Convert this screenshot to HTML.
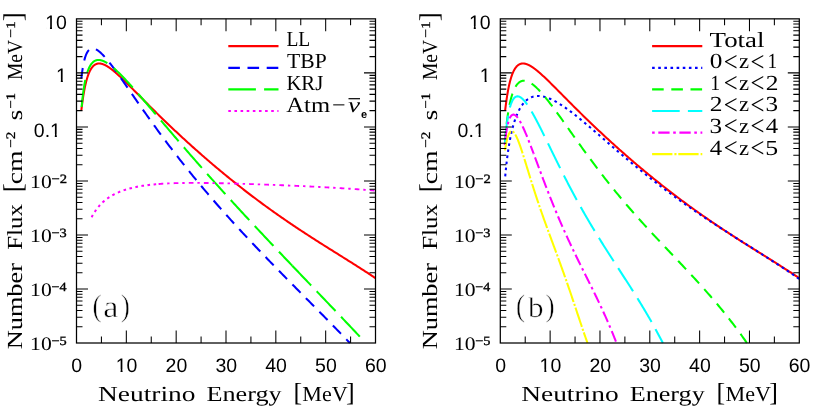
<!DOCTYPE html>
<html><head><meta charset="utf-8"><title>Supernova relic neutrino flux</title>
<style>
html,body{margin:0;padding:0;background:#fff;}
body{width:817px;height:413px;overflow:hidden;}
svg{display:block;will-change:transform}
text{fill:#000;text-rendering:geometricPrecision}
.tk{font-family:"Liberation Sans",sans-serif;font-size:19.5px}
.ex{font-family:"Liberation Serif",serif;font-size:19px}
.exs{font-family:"Liberation Serif",serif;font-size:12.7px;stroke:#000;stroke-width:0.35px}
.ax{font-family:"Liberation Serif",serif;font-size:21.5px}
.sup{font-family:"Liberation Serif",serif;font-size:13px;stroke:#000;stroke-width:0.3px}
.br{font-family:"Liberation Serif",serif;font-size:27px}
.br2{font-family:"Liberation Serif",serif;font-size:26px}
.lg{font-family:"Liberation Serif",serif;font-size:21.5px}
.pn{font-family:"Liberation Serif",serif;font-size:31px;stroke:#fff;stroke-width:0.5px}
.cv{fill:none;stroke-width:2.05;stroke-linejoin:round}
</style></head><body>
<svg width="817" height="413" viewBox="0 0 817 413">
<rect width="817" height="413" fill="#fff"/>
<clipPath id="ca"><rect x="76.5" y="18.85" width="299.0" height="325.15"/></clipPath>
<clipPath id="cb"><rect x="500.3" y="18.85" width="299.0" height="325.15"/></clipPath>
<g clip-path="url(#ca)">
<path class="cv" stroke="#ff0000" d="M81.33,110.50 L81.55,108.68 L81.77,106.91 L81.99,105.19 L82.21,103.52 L82.43,101.91 L82.65,100.34 L82.87,98.83 L83.09,97.37 L83.31,95.96 L83.53,94.60 L83.75,93.29 L83.97,92.02 L84.19,90.80 L84.41,89.62 L84.63,88.49 L84.85,87.39 L85.08,86.34 L85.30,85.32 L85.52,84.34 L85.74,83.40 L85.96,82.49 L86.18,81.61 L86.40,80.77 L86.62,79.96 L86.84,79.17 L87.06,78.42 L87.28,77.70 L87.50,77.00 L87.72,76.33 L87.94,75.69 L88.16,75.07 L88.38,74.47 L88.60,73.90 L88.82,73.35 L89.04,72.82 L89.26,72.31 L89.48,71.82 L89.70,71.35 L89.92,70.90 L90.14,70.47 L90.36,70.06 L90.58,69.66 L90.80,69.28 L91.02,68.92 L91.25,68.57 L91.47,68.24 L91.69,67.92 L91.91,67.62 L92.13,67.33 L92.35,67.06 L92.57,66.79 L92.79,66.54 L93.01,66.31 L93.23,66.08 L93.45,65.87 L93.67,65.66 L93.89,65.47 L94.11,65.29 L94.33,65.12 L94.55,64.96 L94.77,64.81 L94.99,64.67 L95.21,64.54 L95.43,64.41 L95.65,64.30 L95.87,64.19 L96.09,64.10 L96.31,64.01 L96.53,63.93 L96.75,63.85 L96.97,63.79 L97.20,63.73 L97.42,63.67 L97.64,63.63 L97.86,63.59 L98.08,63.56 L98.30,63.53 L98.52,63.51 L98.74,63.50 L98.96,63.49 L99.18,63.49 L99.40,63.49 L99.62,63.50 L99.84,63.52 L100.06,63.53 L100.28,63.56 L100.50,63.59 L100.72,63.62 L100.94,63.66 L101.16,63.70 L101.38,63.75 L101.60,63.80 L101.82,63.86 L102.04,63.92 L102.26,63.98 L102.48,64.05 L102.70,64.12 L102.92,64.20 L103.14,64.28 L103.37,64.36 L103.59,64.45 L103.81,64.54 L104.03,64.63 L104.25,64.72 L104.47,64.82 L104.69,64.93 L104.91,65.03 L105.13,65.14 L105.35,65.25 L105.57,65.36 L105.79,65.48 L106.01,65.60 L106.23,65.72 L106.45,65.85 L106.67,65.97 L106.89,66.10 L107.11,66.23 L107.33,66.37 L107.55,66.50 L107.77,66.64 L107.99,66.78 L108.21,66.92 L108.43,67.07 L108.65,67.21 L108.87,67.36 L109.09,67.51 L109.32,67.67 L109.54,67.82 L109.76,67.98 L109.98,68.13 L110.20,68.29 L110.42,68.45 L110.64,68.62 L110.86,68.78 L111.08,68.94 L111.30,69.11 L111.52,69.28 L111.74,69.45 L111.96,69.62 L112.18,69.79 L112.40,69.97 L112.62,70.14 L112.84,70.32 L113.06,70.50 L113.28,70.68 L113.50,70.86 L113.72,71.04 L113.94,71.22 L114.16,71.41 L114.38,71.59 L114.60,71.78 L114.82,71.96 L115.04,72.15 L115.26,72.34 L115.49,72.53 L115.71,72.72 L115.93,72.91 L116.15,73.10 L116.37,73.30 L117.67,74.46 L118.97,75.64 L120.27,76.85 L121.58,78.08 L122.88,79.32 L124.18,80.58 L125.48,81.85 L126.78,83.13 L128.09,84.42 L129.39,85.72 L130.69,87.02 L131.99,88.33 L133.29,89.64 L134.60,90.95 L135.90,92.26 L137.20,93.58 L138.50,94.89 L139.81,96.21 L141.11,97.52 L142.41,98.83 L143.71,100.14 L145.01,101.45 L146.32,102.76 L147.62,104.07 L148.92,105.37 L150.22,106.67 L151.53,107.96 L152.83,109.25 L154.13,110.54 L155.43,111.83 L156.73,113.11 L158.04,114.39 L159.34,115.66 L160.64,116.93 L161.94,118.20 L163.25,119.46 L164.55,120.72 L165.85,121.98 L167.15,123.23 L168.45,124.47 L169.76,125.71 L171.06,126.95 L172.36,128.19 L173.66,129.41 L174.96,130.64 L176.27,131.86 L177.57,133.08 L178.87,134.29 L180.17,135.50 L181.48,136.71 L182.78,137.91 L184.08,139.10 L185.38,140.29 L186.68,141.48 L187.99,142.67 L189.29,143.85 L190.59,145.02 L191.89,146.20 L193.20,147.36 L194.50,148.53 L195.80,149.69 L197.10,150.84 L198.40,152.00 L199.71,153.14 L201.01,154.29 L202.31,155.43 L203.61,156.56 L204.91,157.70 L206.22,158.83 L207.52,159.95 L208.82,161.07 L210.12,162.19 L211.43,163.30 L212.73,164.41 L214.03,165.51 L215.33,166.61 L216.63,167.71 L217.94,168.80 L219.24,169.89 L220.54,170.97 L221.84,172.05 L223.15,173.13 L224.45,174.20 L225.75,175.27 L227.05,176.34 L228.35,177.40 L229.66,178.46 L230.96,179.51 L232.26,180.56 L233.56,181.60 L234.86,182.65 L236.17,183.68 L237.47,184.72 L238.77,185.75 L240.07,186.77 L241.38,187.79 L242.68,188.81 L243.98,189.82 L245.28,190.83 L246.58,191.84 L247.89,192.84 L249.19,193.84 L250.49,194.84 L251.79,195.83 L253.10,196.81 L254.40,197.79 L255.70,198.77 L257.00,199.75 L258.30,200.72 L259.61,201.69 L260.91,202.65 L262.21,203.61 L263.51,204.57 L264.81,205.52 L266.12,206.47 L267.42,207.41 L268.72,208.35 L270.02,209.29 L271.33,210.22 L272.63,211.15 L273.93,212.08 L275.23,213.00 L276.53,213.92 L277.84,214.83 L279.14,215.75 L280.44,216.66 L281.74,217.56 L283.05,218.46 L284.35,219.36 L285.65,220.26 L286.95,221.15 L288.25,222.04 L289.56,222.92 L290.86,223.80 L292.16,224.68 L293.46,225.56 L294.76,226.43 L296.07,227.30 L297.37,228.17 L298.67,229.03 L299.97,229.89 L301.28,230.75 L302.58,231.61 L303.88,232.46 L305.18,233.31 L306.48,234.16 L307.79,235.01 L309.09,235.85 L310.39,236.69 L311.69,237.53 L313.00,238.37 L314.30,239.20 L315.60,240.04 L316.90,240.87 L318.20,241.70 L319.51,242.53 L320.81,243.35 L322.11,244.18 L323.41,245.00 L324.72,245.82 L326.02,246.64 L327.32,247.46 L328.62,248.28 L329.92,249.10 L331.23,249.92 L332.53,250.73 L333.83,251.55 L335.13,252.36 L336.43,253.18 L337.74,253.99 L339.04,254.81 L340.34,255.62 L341.64,256.44 L342.95,257.25 L344.25,258.07 L345.55,258.88 L346.85,259.70 L348.15,260.52 L349.46,261.33 L350.76,262.15 L352.06,262.98 L353.36,263.80 L354.67,264.62 L355.97,265.45 L357.27,266.27 L358.57,267.10 L359.87,267.94 L361.18,268.77 L362.48,269.61 L363.78,270.45 L365.08,271.29 L366.38,272.13 L367.69,272.98 L368.99,273.83 L370.29,274.69 L371.59,275.55 L372.90,276.41 L374.20,277.28 L375.50,278.15"/>
<path class="cv" stroke="#0000ff" stroke-dasharray="11.6 7.6" stroke-dashoffset="1.0" d="M81.37,78.50 L81.59,76.50 L81.81,74.64 L82.03,72.90 L82.25,71.28 L82.48,69.76 L82.70,68.34 L82.92,67.01 L83.14,65.76 L83.36,64.58 L83.58,63.48 L83.80,62.45 L84.02,61.47 L84.24,60.56 L84.46,59.69 L84.68,58.88 L84.90,58.12 L85.12,57.40 L85.34,56.72 L85.56,56.09 L85.78,55.49 L86.00,54.92 L86.22,54.39 L86.44,53.90 L86.66,53.43 L86.88,52.99 L87.10,52.58 L87.32,52.19 L87.54,51.83 L87.76,51.50 L87.98,51.18 L88.20,50.89 L88.42,50.62 L88.64,50.36 L88.86,50.13 L89.08,49.92 L89.30,49.72 L89.52,49.54 L89.74,49.37 L89.96,49.22 L90.18,49.09 L90.40,48.96 L90.62,48.86 L90.84,48.76 L91.06,48.68 L91.28,48.61 L91.50,48.55 L91.72,48.50 L91.94,48.47 L92.16,48.44 L92.38,48.43 L92.60,48.42 L92.82,48.42 L93.04,48.43 L93.26,48.46 L93.48,48.48 L93.70,48.52 L93.92,48.57 L94.14,48.62 L94.36,48.68 L94.58,48.75 L94.80,48.82 L95.02,48.91 L95.24,48.99 L95.46,49.09 L95.68,49.19 L95.90,49.29 L96.12,49.41 L96.34,49.52 L96.56,49.65 L96.78,49.78 L97.00,49.91 L97.22,50.05 L97.44,50.19 L97.66,50.34 L97.88,50.49 L98.10,50.65 L98.32,50.81 L98.54,50.97 L98.76,51.14 L98.98,51.32 L99.20,51.49 L99.42,51.67 L99.64,51.86 L99.86,52.05 L100.08,52.24 L100.30,52.43 L100.52,52.63 L100.74,52.83 L100.96,53.04 L101.18,53.24 L101.40,53.45 L101.62,53.67 L101.84,53.88 L102.06,54.10 L102.28,54.32 L102.50,54.55 L102.72,54.77 L102.94,55.00 L103.16,55.23 L103.38,55.46 L103.60,55.70 L103.82,55.94 L104.04,56.18 L104.26,56.42 L104.48,56.66 L104.70,56.91 L104.92,57.16 L105.14,57.41 L105.36,57.66 L105.58,57.91 L105.80,58.17 L106.02,58.42 L106.24,58.68 L106.46,58.94 L106.68,59.20 L106.90,59.47 L107.12,59.73 L107.34,60.00 L107.56,60.26 L107.78,60.53 L108.00,60.80 L108.22,61.08 L108.44,61.35 L108.66,61.62 L108.88,61.90 L109.10,62.18 L109.32,62.45 L109.54,62.73 L109.76,63.01 L109.98,63.29 L110.20,63.58 L110.42,63.86 L110.64,64.14 L110.86,64.43 L111.08,64.72 L111.30,65.00 L111.53,65.29 L111.75,65.58 L111.97,65.87 L112.19,66.16 L112.41,66.45 L112.63,66.74 L112.85,67.04 L113.07,67.33 L113.29,67.63 L113.51,67.92 L113.73,68.22 L113.95,68.52 L114.17,68.81 L114.39,69.11 L114.61,69.41 L114.83,69.71 L115.05,70.01 L115.27,70.31 L115.49,70.61 L115.71,70.91 L115.93,71.22 L116.15,71.52 L116.37,71.82 L117.67,73.63 L118.97,75.45 L120.27,77.28 L121.58,79.12 L122.88,80.98 L124.18,82.84 L125.48,84.70 L126.78,86.57 L128.09,88.44 L129.39,90.32 L130.69,92.19 L131.99,94.07 L133.29,95.94 L134.60,97.81 L135.90,99.69 L137.20,101.55 L138.50,103.42 L139.81,105.28 L141.11,107.14 L142.41,108.99 L143.71,110.84 L145.01,112.68 L146.32,114.52 L147.62,116.35 L148.92,118.18 L150.22,120.00 L151.53,121.81 L152.83,123.62 L154.13,125.42 L155.43,127.22 L156.73,129.01 L158.04,130.79 L159.34,132.57 L160.64,134.33 L161.94,136.10 L163.25,137.85 L164.55,139.60 L165.85,141.34 L167.15,143.07 L168.45,144.80 L169.76,146.52 L171.06,148.23 L172.36,149.93 L173.66,151.63 L174.96,153.32 L176.27,155.01 L177.57,156.68 L178.87,158.35 L180.17,160.02 L181.48,161.67 L182.78,163.32 L184.08,164.96 L185.38,166.60 L186.68,168.23 L187.99,169.85 L189.29,171.47 L190.59,173.08 L191.89,174.68 L193.20,176.28 L194.50,177.87 L195.80,179.45 L197.10,181.03 L198.40,182.60 L199.71,184.16 L201.01,185.72 L202.31,187.28 L203.61,188.82 L204.91,190.37 L206.22,191.90 L207.52,193.43 L208.82,194.95 L210.12,196.47 L211.43,197.99 L212.73,199.49 L214.03,201.00 L215.33,202.49 L216.63,203.99 L217.94,205.47 L219.24,206.95 L220.54,208.43 L221.84,209.90 L223.15,211.37 L224.45,212.83 L225.75,214.29 L227.05,215.74 L228.35,217.19 L229.66,218.63 L230.96,220.07 L232.26,221.51 L233.56,222.94 L234.86,224.37 L236.17,225.79 L237.47,227.21 L238.77,228.62 L240.07,230.03 L241.38,231.44 L242.68,232.85 L243.98,234.25 L245.28,235.64 L246.58,237.03 L247.89,238.42 L249.19,239.81 L250.49,241.19 L251.79,242.57 L253.10,243.95 L254.40,245.32 L255.70,246.70 L257.00,248.06 L258.30,249.43 L259.61,250.79 L260.91,252.15 L262.21,253.51 L263.51,254.86 L264.81,256.22 L266.12,257.57 L267.42,258.92 L268.72,260.26 L270.02,261.61 L271.33,262.95 L272.63,264.29 L273.93,265.63 L275.23,266.96 L276.53,268.30 L277.84,269.63 L279.14,270.96 L280.44,272.29 L281.74,273.62 L283.05,274.95 L284.35,276.27 L285.65,277.60 L286.95,278.92 L288.25,280.24 L289.56,281.57 L290.86,282.89 L292.16,284.21 L293.46,285.53 L294.76,286.84 L296.07,288.16 L297.37,289.48 L298.67,290.80 L299.97,292.11 L301.28,293.43 L302.58,294.74 L303.88,296.06 L305.18,297.38 L306.48,298.69 L307.79,300.01 L309.09,301.32 L310.39,302.64 L311.69,303.95 L313.00,305.27 L314.30,306.59 L315.60,307.91 L316.90,309.22 L318.20,310.54 L319.51,311.86 L320.81,313.18 L322.11,314.50 L323.41,315.82 L324.72,317.15 L326.02,318.47 L327.32,319.80 L328.62,321.12 L329.92,322.45 L331.23,323.78 L332.53,325.11 L333.83,326.44 L335.13,327.77 L336.43,329.11 L337.74,330.44 L339.04,331.78 L340.34,333.12 L341.64,334.46 L342.95,335.81 L344.25,337.15 L345.55,338.50 L346.85,339.85 L348.15,341.20 L349.46,342.56 L349.88,343.00"/>
<path class="cv" stroke="#00ff00" stroke-dasharray="27.3 8.0" stroke-dashoffset="-0.5" d="M81.59,107.50 L81.81,105.07 L82.03,102.79 L82.25,100.64 L82.46,98.61 L82.68,96.69 L82.90,94.88 L83.12,93.16 L83.34,91.54 L83.56,89.99 L83.78,88.53 L84.00,87.14 L84.21,85.81 L84.43,84.55 L84.65,83.35 L84.87,82.20 L85.09,81.11 L85.31,80.07 L85.53,79.07 L85.75,78.12 L85.96,77.22 L86.18,76.35 L86.40,75.52 L86.62,74.73 L86.84,73.97 L87.06,73.25 L87.28,72.55 L87.50,71.89 L87.71,71.25 L87.93,70.65 L88.15,70.07 L88.37,69.51 L88.59,68.98 L88.81,68.47 L89.03,67.98 L89.24,67.52 L89.46,67.07 L89.68,66.65 L89.90,66.24 L90.12,65.85 L90.34,65.48 L90.56,65.12 L90.78,64.79 L90.99,64.46 L91.21,64.16 L91.43,63.86 L91.65,63.58 L91.87,63.32 L92.09,63.07 L92.31,62.83 L92.53,62.60 L92.74,62.38 L92.96,62.18 L93.18,61.99 L93.40,61.80 L93.62,61.63 L93.84,61.47 L94.06,61.32 L94.28,61.17 L94.49,61.04 L94.71,60.92 L94.93,60.80 L95.15,60.69 L95.37,60.59 L95.59,60.50 L95.81,60.42 L96.03,60.34 L96.24,60.28 L96.46,60.21 L96.68,60.16 L96.90,60.11 L97.12,60.07 L97.34,60.04 L97.56,60.01 L97.78,59.98 L97.99,59.97 L98.21,59.96 L98.43,59.95 L98.65,59.95 L98.87,59.96 L99.09,59.97 L99.31,59.98 L99.52,60.00 L99.74,60.03 L99.96,60.06 L100.18,60.09 L100.40,60.13 L100.62,60.18 L100.84,60.22 L101.06,60.28 L101.27,60.33 L101.49,60.39 L101.71,60.46 L101.93,60.52 L102.15,60.60 L102.37,60.67 L102.59,60.75 L102.81,60.83 L103.02,60.92 L103.24,61.01 L103.46,61.10 L103.68,61.19 L103.90,61.29 L104.12,61.39 L104.34,61.50 L104.56,61.61 L104.77,61.72 L104.99,61.83 L105.21,61.94 L105.43,62.06 L105.65,62.18 L105.87,62.31 L106.09,62.43 L106.31,62.56 L106.52,62.69 L106.74,62.83 L106.96,62.96 L107.18,63.10 L107.40,63.24 L107.62,63.38 L107.84,63.53 L108.06,63.67 L108.27,63.82 L108.49,63.97 L108.71,64.12 L108.93,64.28 L109.15,64.44 L109.37,64.59 L109.59,64.75 L109.80,64.92 L110.02,65.08 L110.24,65.25 L110.46,65.41 L110.68,65.58 L110.90,65.75 L111.12,65.92 L111.34,66.10 L111.55,66.27 L111.77,66.45 L111.99,66.63 L112.21,66.81 L112.43,66.99 L112.65,67.17 L112.87,67.35 L113.09,67.54 L113.30,67.73 L113.52,67.91 L113.74,68.10 L113.96,68.29 L114.18,68.48 L114.40,68.68 L114.62,68.87 L114.84,69.07 L115.05,69.26 L115.27,69.46 L115.49,69.66 L115.71,69.86 L115.93,70.06 L116.15,70.26 L116.37,70.46 L117.59,71.62 L118.82,72.80 L120.05,74.01 L121.27,75.25 L122.50,76.50 L123.72,77.78 L124.95,79.07 L126.18,80.38 L127.40,81.71 L128.63,83.05 L129.86,84.40 L131.08,85.76 L132.31,87.13 L133.53,88.51 L134.76,89.90 L135.99,91.30 L137.21,92.70 L138.44,94.11 L139.67,95.52 L140.89,96.94 L142.12,98.37 L143.35,99.79 L144.57,101.22 L145.80,102.66 L147.02,104.09 L148.25,105.53 L149.48,106.97 L150.70,108.41 L151.93,109.86 L153.16,111.30 L154.38,112.75 L155.61,114.19 L156.83,115.64 L158.06,117.08 L159.29,118.53 L160.51,119.97 L161.74,121.42 L162.97,122.86 L164.19,124.31 L165.42,125.75 L166.64,127.19 L167.87,128.63 L169.10,130.07 L170.32,131.51 L171.55,132.95 L172.78,134.38 L174.00,135.81 L175.23,137.25 L176.46,138.68 L177.68,140.11 L178.91,141.53 L180.13,142.96 L181.36,144.38 L182.59,145.81 L183.81,147.23 L185.04,148.64 L186.27,150.06 L187.49,151.47 L188.72,152.89 L189.94,154.30 L191.17,155.70 L192.40,157.11 L193.62,158.51 L194.85,159.92 L196.08,161.32 L197.30,162.71 L198.53,164.11 L199.75,165.50 L200.98,166.89 L202.21,168.28 L203.43,169.67 L204.66,171.06 L205.89,172.44 L207.11,173.82 L208.34,175.20 L209.57,176.58 L210.79,177.95 L212.02,179.32 L213.24,180.69 L214.47,182.06 L215.70,183.43 L216.92,184.79 L218.15,186.16 L219.38,187.52 L220.60,188.88 L221.83,190.23 L223.05,191.59 L224.28,192.94 L225.51,194.29 L226.73,195.64 L227.96,196.99 L229.19,198.34 L230.41,199.68 L231.64,201.02 L232.86,202.36 L234.09,203.70 L235.32,205.04 L236.54,206.37 L237.77,207.71 L239.00,209.04 L240.22,210.37 L241.45,211.70 L242.68,213.03 L243.90,214.35 L245.13,215.68 L246.35,217.00 L247.58,218.32 L248.81,219.64 L250.03,220.96 L251.26,222.28 L252.49,223.59 L253.71,224.91 L254.94,226.22 L256.16,227.53 L257.39,228.84 L258.62,230.15 L259.84,231.46 L261.07,232.77 L262.30,234.07 L263.52,235.38 L264.75,236.68 L265.98,237.99 L267.20,239.29 L268.43,240.59 L269.65,241.89 L270.88,243.19 L272.11,244.48 L273.33,245.78 L274.56,247.08 L275.79,248.37 L277.01,249.67 L278.24,250.96 L279.46,252.25 L280.69,253.54 L281.92,254.83 L283.14,256.13 L284.37,257.42 L285.60,258.70 L286.82,259.99 L288.05,261.28 L289.27,262.57 L290.50,263.86 L291.73,265.14 L292.30,265.74"/>
<path class="cv" stroke="#00ff00" stroke-dasharray="27.3 8.0" stroke-dashoffset="0" d="M292.30,265.74 L292.95,266.43 L294.18,267.71 L295.41,269.00 L296.63,270.28 L297.86,271.57 L299.09,272.85 L300.31,274.14 L301.54,275.42 L302.76,276.70 L303.99,277.99 L305.22,279.27 L306.44,280.55 L307.67,281.84 L308.90,283.12 L310.12,284.40 L311.35,285.68 L312.57,286.97 L313.80,288.25 L315.03,289.53 L316.25,290.81 L317.48,292.10 L318.71,293.38 L319.93,294.66 L321.16,295.94 L322.38,297.23 L323.61,298.51 L324.84,299.79 L326.06,301.08 L327.29,302.36 L328.52,303.65 L329.74,304.93 L330.97,306.22 L332.20,307.50 L333.42,308.79 L334.65,310.08 L335.87,311.36 L337.10,312.65 L338.33,313.94 L339.55,315.23 L340.78,316.52 L342.01,317.81 L343.23,319.10 L344.46,320.39 L345.68,321.68 L346.91,322.97 L348.14,324.26 L349.36,325.56 L350.59,326.85 L351.82,328.15 L353.04,329.45 L354.27,330.74 L355.49,332.04 L356.72,333.34 L357.95,334.64 L359.17,335.94 L360.40,337.24"/>
<path class="cv" stroke="#ff00ff" stroke-dasharray="2.6 3.53" d="M91.60,217.20 L91.76,216.90 L91.91,216.60 L92.07,216.31 L92.22,216.02 L92.38,215.73 L92.53,215.45 L92.69,215.17 L92.85,214.89 L93.00,214.62 L93.16,214.35 L93.31,214.09 L93.47,213.82 L93.62,213.57 L93.78,213.31 L93.94,213.05 L94.09,212.80 L94.25,212.56 L94.40,212.31 L94.56,212.07 L94.71,211.83 L94.87,211.59 L95.03,211.36 L95.18,211.13 L95.34,210.90 L95.49,210.67 L95.65,210.45 L95.81,210.22 L95.96,210.01 L96.12,209.79 L96.27,209.57 L96.43,209.36 L96.58,209.15 L96.74,208.94 L96.90,208.74 L97.05,208.53 L97.21,208.33 L97.36,208.13 L97.52,207.93 L97.67,207.74 L97.83,207.54 L97.99,207.35 L98.14,207.16 L98.30,206.97 L98.45,206.79 L98.61,206.60 L98.76,206.42 L98.92,206.24 L99.08,206.06 L99.23,205.88 L99.39,205.71 L99.54,205.53 L99.70,205.36 L99.86,205.19 L100.01,205.02 L100.17,204.85 L100.32,204.68 L100.48,204.52 L100.63,204.36 L100.79,204.20 L100.95,204.04 L101.10,203.88 L101.26,203.72 L101.41,203.56 L101.57,203.41 L101.72,203.26 L101.88,203.10 L102.04,202.95 L102.19,202.80 L102.35,202.66 L102.50,202.51 L102.66,202.37 L102.81,202.22 L102.97,202.08 L103.13,201.94 L103.28,201.80 L103.44,201.66 L103.59,201.52 L103.75,201.38 L103.91,201.25 L104.06,201.11 L104.22,200.98 L104.37,200.85 L104.53,200.72 L104.68,200.59 L104.84,200.46 L105.00,200.33 L105.15,200.20 L105.31,200.08 L105.46,199.95 L105.62,199.83 L105.77,199.71 L105.93,199.59 L106.09,199.47 L106.24,199.35 L106.40,199.23 L106.55,199.11 L106.71,198.99 L106.86,198.88 L107.02,198.76 L107.18,198.65 L107.33,198.53 L107.49,198.42 L107.64,198.31 L107.80,198.20 L107.96,198.09 L108.11,197.98 L108.27,197.87 L108.42,197.77 L108.58,197.66 L108.73,197.56 L108.89,197.45 L109.05,197.35 L109.20,197.24 L109.36,197.14 L109.51,197.04 L109.67,196.94 L109.82,196.84 L109.98,196.74 L110.14,196.64 L110.29,196.55 L110.45,196.45 L110.60,196.35 L110.76,196.26 L110.91,196.16 L111.07,196.07 L111.23,195.97 L111.38,195.88 L111.54,195.79 L111.69,195.70 L111.85,195.61 L112.01,195.52 L112.16,195.43 L112.32,195.34 L112.47,195.25 L112.63,195.16 L112.78,195.08 L112.94,194.99 L113.10,194.91 L113.25,194.82 L113.41,194.74 L113.56,194.65 L113.72,194.57 L113.87,194.49 L114.03,194.41 L114.19,194.33 L114.34,194.25 L114.50,194.17 L114.65,194.09 L114.81,194.01 L114.96,193.93 L115.12,193.85 L115.28,193.77 L115.43,193.70 L115.59,193.62 L115.74,193.54 L115.90,193.47 L116.06,193.39 L116.21,193.32 L116.37,193.25 L117.67,192.65 L118.97,192.09 L120.27,191.56 L121.58,191.06 L122.88,190.58 L124.18,190.14 L125.48,189.71 L126.78,189.31 L128.09,188.93 L129.39,188.57 L130.69,188.23 L131.99,187.90 L133.29,187.60 L134.60,187.31 L135.90,187.03 L137.20,186.77 L138.50,186.52 L139.81,186.29 L141.11,186.07 L142.41,185.86 L143.71,185.66 L145.01,185.47 L146.32,185.29 L147.62,185.12 L148.92,184.96 L150.22,184.81 L151.53,184.67 L152.83,184.53 L154.13,184.40 L155.43,184.28 L156.73,184.17 L158.04,184.06 L158.60,184.02"/>
<path class="cv" stroke="#ff00ff" stroke-dasharray="4.7 3.9 2.4 4.1" style="stroke-width:1.85" d="M158.60,184.02 L159.34,183.96 L160.64,183.87 L161.94,183.78 L163.25,183.70 L164.55,183.62 L165.85,183.55 L167.15,183.48 L168.45,183.42 L169.76,183.36 L171.06,183.31 L172.36,183.26 L173.66,183.21 L174.96,183.17 L176.27,183.13 L177.57,183.09 L178.87,183.06 L180.17,183.03 L181.48,183.01 L182.78,182.99 L184.08,182.97 L185.38,182.95 L186.68,182.94 L187.99,182.92 L189.29,182.91 L190.59,182.91 L191.89,182.90 L193.20,182.90 L194.50,182.90 L195.80,182.90 L197.10,182.90 L198.40,182.91 L199.71,182.92 L201.01,182.93 L202.31,182.94 L203.61,182.95 L204.91,182.96 L206.22,182.98 L207.52,182.99 L208.82,183.01 L210.12,183.03 L211.43,183.05 L212.73,183.07 L214.03,183.09 L215.33,183.12 L216.63,183.14 L217.94,183.17 L219.24,183.19 L220.54,183.22 L221.84,183.25 L223.15,183.28 L224.45,183.31 L225.75,183.34 L227.05,183.37 L228.35,183.41 L229.66,183.44 L230.96,183.47 L232.26,183.51 L233.56,183.54 L234.86,183.58 L236.17,183.62 L237.47,183.66 L238.77,183.69 L240.07,183.73 L241.38,183.77 L242.68,183.81 L243.98,183.85 L245.28,183.89 L246.58,183.94 L247.89,183.98 L249.19,184.02 L250.49,184.06 L251.79,184.11 L253.10,184.15 L254.40,184.20 L255.70,184.24 L257.00,184.29 L258.30,184.33 L259.61,184.38 L260.91,184.42 L262.21,184.47 L263.51,184.52 L264.81,184.57 L266.12,184.62 L267.42,184.66 L268.72,184.71 L270.02,184.76 L271.33,184.81 L272.63,184.86 L273.93,184.91 L275.23,184.97 L276.53,185.02 L277.84,185.07 L279.14,185.12 L280.44,185.17 L281.74,185.23 L283.05,185.28 L284.35,185.33 L285.65,185.39 L286.95,185.44 L288.25,185.50 L289.56,185.56 L290.86,185.61 L292.16,185.67 L293.46,185.72 L294.76,185.78 L296.07,185.84 L297.37,185.90 L298.67,185.96 L299.97,186.02 L301.28,186.08 L302.58,186.14 L303.88,186.20 L305.18,186.26 L306.48,186.32 L307.79,186.38 L309.09,186.45 L310.39,186.51 L311.69,186.57 L313.00,186.64 L314.30,186.70 L315.60,186.77 L316.90,186.84 L318.20,186.90 L319.51,186.97 L320.81,187.04 L322.11,187.11 L323.41,187.18 L324.72,187.25 L326.02,187.32 L327.32,187.39 L328.62,187.46 L329.92,187.53 L331.23,187.61 L332.53,187.68 L333.83,187.76 L335.13,187.83 L336.43,187.91 L337.74,187.99 L339.04,188.06 L340.34,188.14 L341.64,188.22 L342.95,188.30 L344.25,188.38 L345.55,188.47 L346.85,188.55 L348.15,188.63 L349.46,188.72 L350.76,188.80 L352.06,188.89 L353.36,188.98 L354.67,189.07 L355.97,189.15 L357.27,189.24 L358.57,189.34 L359.87,189.43 L361.18,189.52 L362.48,189.62 L363.78,189.71 L365.08,189.81 L366.38,189.90 L367.69,190.00 L368.99,190.10 L370.29,190.20 L371.59,190.31 L372.90,190.41 L374.20,190.51 L375.50,190.62"/>
</g>
<rect x="76.5" y="18.85" width="299.0" height="324.15" fill="none" stroke="#000" stroke-width="1.25"/>
<path d="M101.42,343.0v-6.5M101.42,18.85v6.5M126.33,343.0v-12.5M126.33,18.85v12.5M151.25,343.0v-6.5M151.25,18.85v6.5M176.17,343.0v-12.5M176.17,18.85v12.5M201.08,343.0v-6.5M201.08,18.85v6.5M226.00,343.0v-12.5M226.00,18.85v12.5M250.92,343.0v-6.5M250.92,18.85v6.5M275.83,343.0v-12.5M275.83,18.85v12.5M300.75,343.0v-6.5M300.75,18.85v6.5M325.67,343.0v-12.5M325.67,18.85v12.5M350.58,343.0v-6.5M350.58,18.85v6.5M76.5,56.61h6M375.5,56.61h-6M76.5,47.10h6M375.5,47.10h-6M76.5,40.35h6M375.5,40.35h-6M76.5,35.11h6M375.5,35.11h-6M76.5,30.84h6M375.5,30.84h-6M76.5,27.22h6M375.5,27.22h-6M76.5,24.09h6M375.5,24.09h-6M76.5,21.32h6M375.5,21.32h-6M76.5,72.88h11.5M375.5,72.88h-11.5M76.5,110.64h6M375.5,110.64h-6M76.5,101.12h6M375.5,101.12h-6M76.5,94.37h6M375.5,94.37h-6M76.5,89.14h6M375.5,89.14h-6M76.5,84.86h6M375.5,84.86h-6M76.5,81.24h6M375.5,81.24h-6M76.5,78.11h6M375.5,78.11h-6M76.5,75.35h6M375.5,75.35h-6M76.5,126.90h11.5M375.5,126.90h-11.5M76.5,164.66h6M375.5,164.66h-6M76.5,155.15h6M375.5,155.15h-6M76.5,148.40h6M375.5,148.40h-6M76.5,143.16h6M375.5,143.16h-6M76.5,138.89h6M375.5,138.89h-6M76.5,135.27h6M375.5,135.27h-6M76.5,132.14h6M375.5,132.14h-6M76.5,129.37h6M375.5,129.37h-6M76.5,180.92h11.5M375.5,180.92h-11.5M76.5,218.69h6M375.5,218.69h-6M76.5,209.17h6M375.5,209.17h-6M76.5,202.42h6M375.5,202.42h-6M76.5,197.19h6M375.5,197.19h-6M76.5,192.91h6M375.5,192.91h-6M76.5,189.29h6M375.5,189.29h-6M76.5,186.16h6M375.5,186.16h-6M76.5,183.40h6M375.5,183.40h-6M76.5,234.95h11.5M375.5,234.95h-11.5M76.5,272.71h6M375.5,272.71h-6M76.5,263.20h6M375.5,263.20h-6M76.5,256.45h6M375.5,256.45h-6M76.5,251.21h6M375.5,251.21h-6M76.5,246.94h6M375.5,246.94h-6M76.5,243.32h6M375.5,243.32h-6M76.5,240.19h6M375.5,240.19h-6M76.5,237.42h6M375.5,237.42h-6M76.5,288.98h11.5M375.5,288.98h-11.5M76.5,326.74h6M375.5,326.74h-6M76.5,317.22h6M375.5,317.22h-6M76.5,310.47h6M375.5,310.47h-6M76.5,305.24h6M375.5,305.24h-6M76.5,300.96h6M375.5,300.96h-6M76.5,297.34h6M375.5,297.34h-6M76.5,294.21h6M375.5,294.21h-6M76.5,291.45h6M375.5,291.45h-6" fill="none" stroke="#000" stroke-width="1.05"/>
<text class="tk" x="76.80" y="372.2" text-anchor="middle">0</text>
<text class="tk" x="126.63" y="372.2" text-anchor="middle">10</text>
<rect x="116.69" y="369.50" width="3.85" height="3.4" fill="#fff"/><rect x="122.57" y="369.50" width="3.80" height="3.4" fill="#fff"/>
<text class="tk" x="176.47" y="372.2" text-anchor="middle">20</text>
<text class="tk" x="226.30" y="372.2" text-anchor="middle">30</text>
<text class="tk" x="276.13" y="372.2" text-anchor="middle">40</text>
<text class="tk" x="325.97" y="372.2" text-anchor="middle">50</text>
<text class="tk" x="375.80" y="372.2" text-anchor="middle">60</text>
<text class="tk" x="66.90" y="28.65" text-anchor="end">10</text><rect x="46.11" y="25.95" width="3.85" height="3.4" fill="#fff"/><rect x="51.99" y="25.95" width="3.80" height="3.4" fill="#fff"/>
<text class="tk" x="66.90" y="82.47" text-anchor="end">1</text><rect x="56.96" y="79.77" width="3.85" height="3.4" fill="#fff"/><rect x="62.84" y="79.77" width="3.80" height="3.4" fill="#fff"/>
<text class="tk" x="60.90" y="136.60" text-anchor="end">0.1</text><rect x="50.96" y="133.90" width="3.85" height="3.4" fill="#fff"/><rect x="56.84" y="133.90" width="3.80" height="3.4" fill="#fff"/>
<text class="ex" x="30.10" y="187.92" textLength="21.62" lengthAdjust="spacingAndGlyphs">10</text>
<text class="exs" x="51.47" y="182.72" textLength="15.53" lengthAdjust="spacingAndGlyphs">−2</text>
<text class="ex" x="30.10" y="241.95" textLength="21.62" lengthAdjust="spacingAndGlyphs">10</text>
<text class="exs" x="51.48" y="236.75" textLength="15.28" lengthAdjust="spacingAndGlyphs">−3</text>
<text class="ex" x="30.10" y="295.98" textLength="21.62" lengthAdjust="spacingAndGlyphs">10</text>
<text class="exs" x="51.50" y="290.78" textLength="14.92" lengthAdjust="spacingAndGlyphs">−4</text>
<text class="ex" x="30.10" y="350.0" textLength="21.62" lengthAdjust="spacingAndGlyphs">10</text>
<text class="exs" x="51.48" y="344.8" textLength="15.28" lengthAdjust="spacingAndGlyphs">−5</text>
<g transform="translate(21.8,0) rotate(-90)">
<text class="ax" x="-349.26" y="0" textLength="86.19" lengthAdjust="spacingAndGlyphs">Number</text>
<text class="ax" x="-249.72" y="0" textLength="45.62" lengthAdjust="spacingAndGlyphs">Flux</text>
<text class="br" x="-192.2" y="0.3">[</text>
<text class="ax" x="-184.25" y="0" textLength="33.68" lengthAdjust="spacingAndGlyphs">cm</text>
<text class="sup" x="-147.75" y="-7.3" textLength="16.09" lengthAdjust="spacingAndGlyphs">−2</text>
<text class="ax" x="-120.54" y="0" textLength="10.85" lengthAdjust="spacingAndGlyphs">s</text>
<text class="sup" x="-108.63" y="-7.3" textLength="15.61" lengthAdjust="spacingAndGlyphs">−1</text>
<text class="ax" x="-80.06" y="0" textLength="40.08" lengthAdjust="spacingAndGlyphs">MeV</text>
<text class="sup" x="-37.78" y="-7.3" textLength="16.73" lengthAdjust="spacingAndGlyphs">−1</text>
<text class="br" x="-21.2" y="0.3">]</text>
</g>
<text class="ax" x="98.01" y="400.7" textLength="97.43" lengthAdjust="spacingAndGlyphs">Neutrino</text>
<text class="ax" x="206.45" y="400.7" textLength="75.15" lengthAdjust="spacingAndGlyphs">Energy</text>
<text class="br2" x="293.38" y="401.2">[</text>
<text class="ax" x="302.36" y="400.7" textLength="45.38" lengthAdjust="spacingAndGlyphs">MeV</text>
<text class="br2" x="345.97" y="401.2">]</text>
<path d="M228.30,46.20h50.2" stroke="#ff0000" stroke-width="2.2" fill="none"/>
<path d="M228.30,67.80h50.2" stroke="#0000ff" stroke-width="2.2" fill="none" stroke-dasharray="11.6 7.6"/>
<path d="M228.30,89.40h50.2" stroke="#00ff00" stroke-width="2.2" fill="none" stroke-dasharray="27.6 8.2"/>
<path d="M228.30,111.00h50.2" stroke="#ff00ff" stroke-width="2.2" fill="none" stroke-dasharray="2.6 3.53"/>
<text class="lg" x="286.44" y="46.2" textLength="23.83" lengthAdjust="spacingAndGlyphs">LL</text>
<text class="lg" x="287.11" y="67.7" textLength="39.55" lengthAdjust="spacingAndGlyphs">TBP</text>
<text class="lg" x="286.40" y="89.6" textLength="36.83" lengthAdjust="spacingAndGlyphs">KRJ</text>
<text class="lg" x="286.36" y="111.6" textLength="43.72" lengthAdjust="spacingAndGlyphs">Atm</text>
<text class="lg" x="332.00" y="111.6" textLength="13.57" lengthAdjust="spacingAndGlyphs">−</text>
<text class="lg" x="347.93" y="111.6" textLength="12.07" lengthAdjust="spacingAndGlyphs" font-style="italic">ν</text>
<path d="M348.5,98.7h11.5" stroke="#000" stroke-width="1.2"/>
<text x="361" y="117.9" style="font-family:'Liberation Sans',sans-serif;font-size:11px;font-weight:bold">e</text>
<text class="pn"><tspan x="92.52" y="316.1" font-size="31" textLength="8.95" lengthAdjust="spacingAndGlyphs">(</tspan><tspan x="103.20" y="317.0" font-size="31" textLength="15.17" lengthAdjust="spacingAndGlyphs">a</tspan><tspan x="120.95" y="316.1" font-size="31" textLength="8.82" lengthAdjust="spacingAndGlyphs">)</tspan></text>
<g clip-path="url(#cb)">
<path class="cv" stroke="#ff0000" transform="translate(423.8,0)" d="M81.33,110.50 L81.55,108.68 L81.77,106.91 L81.99,105.19 L82.21,103.52 L82.43,101.91 L82.65,100.34 L82.87,98.83 L83.09,97.37 L83.31,95.96 L83.53,94.60 L83.75,93.29 L83.97,92.02 L84.19,90.80 L84.41,89.62 L84.63,88.49 L84.85,87.39 L85.08,86.34 L85.30,85.32 L85.52,84.34 L85.74,83.40 L85.96,82.49 L86.18,81.61 L86.40,80.77 L86.62,79.96 L86.84,79.17 L87.06,78.42 L87.28,77.70 L87.50,77.00 L87.72,76.33 L87.94,75.69 L88.16,75.07 L88.38,74.47 L88.60,73.90 L88.82,73.35 L89.04,72.82 L89.26,72.31 L89.48,71.82 L89.70,71.35 L89.92,70.90 L90.14,70.47 L90.36,70.06 L90.58,69.66 L90.80,69.28 L91.02,68.92 L91.25,68.57 L91.47,68.24 L91.69,67.92 L91.91,67.62 L92.13,67.33 L92.35,67.06 L92.57,66.79 L92.79,66.54 L93.01,66.31 L93.23,66.08 L93.45,65.87 L93.67,65.66 L93.89,65.47 L94.11,65.29 L94.33,65.12 L94.55,64.96 L94.77,64.81 L94.99,64.67 L95.21,64.54 L95.43,64.41 L95.65,64.30 L95.87,64.19 L96.09,64.10 L96.31,64.01 L96.53,63.93 L96.75,63.85 L96.97,63.79 L97.20,63.73 L97.42,63.67 L97.64,63.63 L97.86,63.59 L98.08,63.56 L98.30,63.53 L98.52,63.51 L98.74,63.50 L98.96,63.49 L99.18,63.49 L99.40,63.49 L99.62,63.50 L99.84,63.52 L100.06,63.53 L100.28,63.56 L100.50,63.59 L100.72,63.62 L100.94,63.66 L101.16,63.70 L101.38,63.75 L101.60,63.80 L101.82,63.86 L102.04,63.92 L102.26,63.98 L102.48,64.05 L102.70,64.12 L102.92,64.20 L103.14,64.28 L103.37,64.36 L103.59,64.45 L103.81,64.54 L104.03,64.63 L104.25,64.72 L104.47,64.82 L104.69,64.93 L104.91,65.03 L105.13,65.14 L105.35,65.25 L105.57,65.36 L105.79,65.48 L106.01,65.60 L106.23,65.72 L106.45,65.85 L106.67,65.97 L106.89,66.10 L107.11,66.23 L107.33,66.37 L107.55,66.50 L107.77,66.64 L107.99,66.78 L108.21,66.92 L108.43,67.07 L108.65,67.21 L108.87,67.36 L109.09,67.51 L109.32,67.67 L109.54,67.82 L109.76,67.98 L109.98,68.13 L110.20,68.29 L110.42,68.45 L110.64,68.62 L110.86,68.78 L111.08,68.94 L111.30,69.11 L111.52,69.28 L111.74,69.45 L111.96,69.62 L112.18,69.79 L112.40,69.97 L112.62,70.14 L112.84,70.32 L113.06,70.50 L113.28,70.68 L113.50,70.86 L113.72,71.04 L113.94,71.22 L114.16,71.41 L114.38,71.59 L114.60,71.78 L114.82,71.96 L115.04,72.15 L115.26,72.34 L115.49,72.53 L115.71,72.72 L115.93,72.91 L116.15,73.10 L116.37,73.30 L117.67,74.46 L118.97,75.64 L120.27,76.85 L121.58,78.08 L122.88,79.32 L124.18,80.58 L125.48,81.85 L126.78,83.13 L128.09,84.42 L129.39,85.72 L130.69,87.02 L131.99,88.33 L133.29,89.64 L134.60,90.95 L135.90,92.26 L137.20,93.58 L138.50,94.89 L139.81,96.21 L141.11,97.52 L142.41,98.83 L143.71,100.14 L145.01,101.45 L146.32,102.76 L147.62,104.07 L148.92,105.37 L150.22,106.67 L151.53,107.96 L152.83,109.25 L154.13,110.54 L155.43,111.83 L156.73,113.11 L158.04,114.39 L159.34,115.66 L160.64,116.93 L161.94,118.20 L163.25,119.46 L164.55,120.72 L165.85,121.98 L167.15,123.23 L168.45,124.47 L169.76,125.71 L171.06,126.95 L172.36,128.19 L173.66,129.41 L174.96,130.64 L176.27,131.86 L177.57,133.08 L178.87,134.29 L180.17,135.50 L181.48,136.71 L182.78,137.91 L184.08,139.10 L185.38,140.29 L186.68,141.48 L187.99,142.67 L189.29,143.85 L190.59,145.02 L191.89,146.20 L193.20,147.36 L194.50,148.53 L195.80,149.69 L197.10,150.84 L198.40,152.00 L199.71,153.14 L201.01,154.29 L202.31,155.43 L203.61,156.56 L204.91,157.70 L206.22,158.83 L207.52,159.95 L208.82,161.07 L210.12,162.19 L211.43,163.30 L212.73,164.41 L214.03,165.51 L215.33,166.61 L216.63,167.71 L217.94,168.80 L219.24,169.89 L220.54,170.97 L221.84,172.05 L223.15,173.13 L224.45,174.20 L225.75,175.27 L227.05,176.34 L228.35,177.40 L229.66,178.46 L230.96,179.51 L232.26,180.56 L233.56,181.60 L234.86,182.65 L236.17,183.68 L237.47,184.72 L238.77,185.75 L240.07,186.77 L241.38,187.79 L242.68,188.81 L243.98,189.82 L245.28,190.83 L246.58,191.84 L247.89,192.84 L249.19,193.84 L250.49,194.84 L251.79,195.83 L253.10,196.81 L254.40,197.79 L255.70,198.77 L257.00,199.75 L258.30,200.72 L259.61,201.69 L260.91,202.65 L262.21,203.61 L263.51,204.57 L264.81,205.52 L266.12,206.47 L267.42,207.41 L268.72,208.35 L270.02,209.29 L271.33,210.22 L272.63,211.15 L273.93,212.08 L275.23,213.00 L276.53,213.92 L277.84,214.83 L279.14,215.75 L280.44,216.66 L281.74,217.56 L283.05,218.46 L284.35,219.36 L285.65,220.26 L286.95,221.15 L288.25,222.04 L289.56,222.92 L290.86,223.80 L292.16,224.68 L293.46,225.56 L294.76,226.43 L296.07,227.30 L297.37,228.17 L298.67,229.03 L299.97,229.89 L301.28,230.75 L302.58,231.61 L303.88,232.46 L305.18,233.31 L306.48,234.16 L307.79,235.01 L309.09,235.85 L310.39,236.69 L311.69,237.53 L313.00,238.37 L314.30,239.20 L315.60,240.04 L316.90,240.87 L318.20,241.70 L319.51,242.53 L320.81,243.35 L322.11,244.18 L323.41,245.00 L324.72,245.82 L326.02,246.64 L327.32,247.46 L328.62,248.28 L329.92,249.10 L331.23,249.92 L332.53,250.73 L333.83,251.55 L335.13,252.36 L336.43,253.18 L337.74,253.99 L339.04,254.81 L340.34,255.62 L341.64,256.44 L342.95,257.25 L344.25,258.07 L345.55,258.88 L346.85,259.70 L348.15,260.52 L349.46,261.33 L350.76,262.15 L352.06,262.98 L353.36,263.80 L354.67,264.62 L355.97,265.45 L357.27,266.27 L358.57,267.10 L359.87,267.94 L361.18,268.77 L362.48,269.61 L363.78,270.45 L365.08,271.29 L366.38,272.13 L367.69,272.98 L368.99,273.83 L370.29,274.69 L371.59,275.55 L372.90,276.41 L374.20,277.28 L375.50,278.15"/>
<path class="cv" stroke="#0000ff" stroke-dasharray="2.6 3.53" style="stroke-width:2.05" d="M505.22,176.30 L505.44,173.88 L505.66,171.56 L505.88,169.33 L506.10,167.20 L506.32,165.15 L506.54,163.19 L506.76,161.29 L506.98,159.46 L507.20,157.70 L507.42,156.00 L507.64,154.36 L507.86,152.78 L508.08,151.24 L508.30,149.75 L508.52,148.32 L508.74,146.92 L508.96,145.57 L509.18,144.26 L509.40,142.99 L509.62,141.75 L509.84,140.55 L510.05,139.38 L510.27,138.25 L510.49,137.15 L510.71,136.07 L510.93,135.03 L511.15,134.01 L511.37,133.03 L511.59,132.06 L511.81,131.12 L512.03,130.21 L512.25,129.32 L512.47,128.45 L512.69,127.60 L512.91,126.77 L513.13,125.97 L513.35,125.18 L513.57,124.42 L513.79,123.67 L514.01,122.94 L514.23,122.22 L514.45,121.53 L514.67,120.85 L514.89,120.18 L515.11,119.53 L515.33,118.90 L515.55,118.28 L515.77,117.68 L515.99,117.09 L516.21,116.51 L516.43,115.95 L516.65,115.39 L516.87,114.86 L517.09,114.33 L517.31,113.82 L517.53,113.31 L517.75,112.82 L517.97,112.34 L518.19,111.87 L518.41,111.42 L518.63,110.97 L518.85,110.53 L519.07,110.10 L519.29,109.68 L519.51,109.27 L519.73,108.87 L519.95,108.48 L520.17,108.10 L520.39,107.73 L520.61,107.37 L520.82,107.01 L521.04,106.66 L521.26,106.32 L521.48,105.99 L521.70,105.67 L521.92,105.35 L522.14,105.04 L522.36,104.74 L522.58,104.44 L522.80,104.15 L523.02,103.87 L523.24,103.60 L523.46,103.33 L523.68,103.07 L523.90,102.82 L524.12,102.57 L524.34,102.32 L524.56,102.09 L524.78,101.86 L525.00,101.63 L525.22,101.41 L525.44,101.20 L525.66,100.99 L525.88,100.79 L526.10,100.59 L526.32,100.40 L526.54,100.22 L526.76,100.03 L526.98,99.86 L527.20,99.69 L527.42,99.52 L527.64,99.36 L527.86,99.20 L528.08,99.05 L528.30,98.90 L528.52,98.75 L528.74,98.62 L528.96,98.48 L529.18,98.35 L529.40,98.22 L529.62,98.10 L529.84,97.98 L530.06,97.87 L530.28,97.76 L530.50,97.65 L530.72,97.55 L530.94,97.45 L531.16,97.35 L531.37,97.26 L531.59,97.17 L531.81,97.09 L532.03,97.01 L532.25,96.93 L532.47,96.86 L532.69,96.79 L532.91,96.72 L533.13,96.65 L533.35,96.59 L533.57,96.54 L533.79,96.48 L534.01,96.43 L534.23,96.38 L534.45,96.34 L534.67,96.29 L534.89,96.25 L535.11,96.22 L535.33,96.18 L535.55,96.15 L535.77,96.12 L535.99,96.10 L536.21,96.07 L536.43,96.05 L536.65,96.04 L536.87,96.02 L537.09,96.01 L537.31,96.00 L537.53,95.99 L537.75,95.99 L537.97,95.98 L538.19,95.98 L538.41,95.98 L538.63,95.99 L538.85,96.00 L539.07,96.01 L539.29,96.02 L539.51,96.03 L539.73,96.05 L539.95,96.06 L540.17,96.08 L541.47,96.24 L542.77,96.47 L544.07,96.77 L545.38,97.12 L546.68,97.53 L547.98,97.98 L549.28,98.49 L550.58,99.05 L551.89,99.64 L553.19,100.28 L554.49,100.95 L555.79,101.65 L557.09,102.39 L558.40,103.16 L559.70,103.96 L561.00,104.78 L562.30,105.63 L563.61,106.50 L564.91,107.39 L566.21,108.31 L567.51,109.24 L568.81,110.19 L570.12,111.15 L571.42,112.13 L572.72,113.13 L574.02,114.14 L575.33,115.16 L576.63,116.19 L577.93,117.24 L579.23,118.29 L580.53,119.35 L581.84,120.42 L583.14,121.50 L584.44,122.59 L585.74,123.68 L587.05,124.78 L588.35,125.88 L589.65,126.98 L590.95,128.10 L592.25,129.21 L593.56,130.33 L594.86,131.45 L596.16,132.57 L597.46,133.70 L598.76,134.83 L600.07,135.96 L601.37,137.08 L602.67,138.21 L603.97,139.35 L605.28,140.48 L606.58,141.61 L607.88,142.74 L609.18,143.86 L610.48,144.99 L611.79,146.12 L613.09,147.24 L614.39,148.37 L615.69,149.49 L617.00,150.61 L618.30,151.73 L619.60,152.84 L620.90,153.96 L622.20,155.07 L623.51,156.17 L624.81,157.28 L626.11,158.38 L627.41,159.48 L628.71,160.57 L630.02,161.66 L631.32,162.75 L632.62,163.84 L633.92,164.92 L635.23,165.99 L636.53,167.07 L637.83,168.14 L639.13,169.20 L640.43,170.26 L641.74,171.32 L643.04,172.38 L644.34,173.43 L645.64,174.47 L646.95,175.51 L648.25,176.55 L649.55,177.58 L650.85,178.61 L652.15,179.64 L653.46,180.66 L654.76,181.67 L656.06,182.68 L657.36,183.69 L658.66,184.69 L659.97,185.69 L661.27,186.69 L662.57,187.68 L663.87,188.66 L665.18,189.64 L666.48,190.62 L667.78,191.59 L669.08,192.56 L670.38,193.53 L671.69,194.49 L672.99,195.44 L674.29,196.40 L675.59,197.34 L676.90,198.29 L678.20,199.23 L679.50,200.17 L680.80,201.10 L682.10,202.03 L683.41,202.95 L684.71,203.87 L686.01,204.79 L687.31,205.70 L688.61,206.61 L689.92,207.52 L691.22,208.42 L692.52,209.32 L693.82,210.22 L695.13,211.11 L696.43,212.00 L697.73,212.89 L699.03,213.77 L700.33,214.65 L701.64,215.53 L702.94,216.40 L704.24,217.27 L705.54,218.14 L706.85,219.01 L708.15,219.87 L709.45,220.73 L710.75,221.59 L712.05,222.44 L713.36,223.30 L714.66,224.15 L715.96,225.00 L717.26,225.84 L718.56,226.69 L719.87,227.53 L721.17,228.37 L722.47,229.21 L723.77,230.05 L725.08,230.88 L726.38,231.72 L727.68,232.55 L728.98,233.38 L730.28,234.21 L731.59,235.04 L732.89,235.87 L734.19,236.70 L735.49,237.52 L736.80,238.35 L738.10,239.17 L739.40,240.00 L740.70,240.82 L742.00,241.64 L743.31,242.47 L744.61,243.29 L745.91,244.11 L747.21,244.93 L748.52,245.75 L749.82,246.58 L751.12,247.40 L752.42,248.22 L753.72,249.05 L755.03,249.87 L756.33,250.70 L757.63,251.52 L758.93,252.35 L760.23,253.18 L761.54,254.00 L762.84,254.83 L764.14,255.66 L765.44,256.50 L766.75,257.33 L768.05,258.17 L769.35,259.00 L770.65,259.84 L771.95,260.68 L773.26,261.53 L774.56,262.37 L775.86,263.22 L777.16,264.07 L778.47,264.92 L779.77,265.78 L781.07,266.63 L782.37,267.50 L783.67,268.36 L784.98,269.23 L786.28,270.09 L787.58,270.97 L788.88,271.84 L790.18,272.72 L791.49,273.61 L792.79,274.49 L794.09,275.38 L795.39,276.28 L796.70,277.18 L798.00,278.08 L799.30,278.99"/>
<path class="cv" stroke="#00ff00" stroke-dasharray="11.6 7.6" stroke-dashoffset="2" d="M504.96,141.00 L505.18,138.28 L505.40,135.72 L505.63,133.28 L505.85,130.98 L506.07,128.78 L506.29,126.70 L506.51,124.71 L506.73,122.82 L506.95,121.02 L507.18,119.29 L507.40,117.64 L507.62,116.07 L507.84,114.56 L508.06,113.11 L508.28,111.72 L508.50,110.39 L508.73,109.12 L508.95,107.89 L509.17,106.72 L509.39,105.59 L509.61,104.50 L509.83,103.46 L510.05,102.46 L510.27,101.49 L510.50,100.56 L510.72,99.67 L510.94,98.81 L511.16,97.98 L511.38,97.19 L511.60,96.42 L511.82,95.68 L512.05,94.97 L512.27,94.29 L512.49,93.63 L512.71,92.99 L512.93,92.38 L513.15,91.80 L513.37,91.23 L513.60,90.69 L513.82,90.16 L514.04,89.66 L514.26,89.18 L514.48,88.71 L514.70,88.26 L514.92,87.84 L515.15,87.42 L515.37,87.03 L515.59,86.65 L515.81,86.28 L516.03,85.93 L516.25,85.60 L516.47,85.28 L516.70,84.97 L516.92,84.68 L517.14,84.40 L517.36,84.13 L517.58,83.88 L517.80,83.64 L518.02,83.40 L518.25,83.19 L518.47,82.98 L518.69,82.78 L518.91,82.59 L519.13,82.42 L519.35,82.25 L519.57,82.09 L519.80,81.95 L520.02,81.81 L520.24,81.68 L520.46,81.56 L520.68,81.45 L520.90,81.35 L521.12,81.25 L521.35,81.17 L521.57,81.09 L521.79,81.02 L522.01,80.96 L522.23,80.90 L522.45,80.85 L522.67,80.81 L522.90,80.78 L523.12,80.75 L523.34,80.73 L523.56,80.72 L523.78,80.71 L524.00,80.71 L524.22,80.71 L524.45,80.72 L524.67,80.74 L524.89,80.76 L525.11,80.79 L525.33,80.82 L525.55,80.86 L525.77,80.90 L526.00,80.95 L526.22,81.00 L526.44,81.06 L526.66,81.13 L526.88,81.20 L527.10,81.27 L527.32,81.35 L527.55,81.43 L527.77,81.51 L527.99,81.61 L528.21,81.70 L528.43,81.80 L528.65,81.90 L528.87,82.01 L529.10,82.12 L529.32,82.24 L529.54,82.36 L529.76,82.48 L529.98,82.60 L530.20,82.73 L530.42,82.87 L530.65,83.00 L530.87,83.14 L531.09,83.29 L531.31,83.43 L531.53,83.58 L531.75,83.74 L531.97,83.89 L532.20,84.05 L532.42,84.21 L532.64,84.38 L532.86,84.55 L533.08,84.72 L533.30,84.89 L533.52,85.07 L533.75,85.25 L533.97,85.43 L534.19,85.61 L534.41,85.80 L534.63,85.99 L534.85,86.18 L535.07,86.37 L535.30,86.57 L535.52,86.77 L535.74,86.97 L535.96,87.17 L536.18,87.38 L536.40,87.58 L536.62,87.79 L536.85,88.00 L537.07,88.22 L537.29,88.43 L537.51,88.65 L537.73,88.87 L537.95,89.09 L538.17,89.32 L538.40,89.54 L538.62,89.77 L538.84,90.00 L539.06,90.23 L539.28,90.46 L539.50,90.69 L539.72,90.93 L539.95,91.17 L540.17,91.40 L541.47,92.84 L542.77,94.33 L544.07,95.85 L545.38,97.42 L546.68,99.03 L547.98,100.67 L549.28,102.33 L550.58,104.03 L551.89,105.74 L553.19,107.48 L554.49,109.23 L555.79,111.00 L557.09,112.79 L558.40,114.58 L559.70,116.39 L561.00,118.20 L562.30,120.03 L563.61,121.85 L564.91,123.69 L566.21,125.52 L567.51,127.36 L568.81,129.20 L570.12,131.04 L571.42,132.88 L572.72,134.72 L574.02,136.55 L575.33,138.39 L576.63,140.22 L577.93,142.04 L579.23,143.86 L580.53,145.68 L581.84,147.49 L583.14,149.29 L584.44,151.09 L585.74,152.88 L587.05,154.67 L588.35,156.44 L589.65,158.21 L590.95,159.98 L592.25,161.73 L593.56,163.47 L594.86,165.21 L596.16,166.94 L597.46,168.66 L598.76,170.37 L600.07,172.07 L601.37,173.77 L602.67,175.45 L603.97,177.13 L605.28,178.79 L606.58,180.45 L607.88,182.10 L609.18,183.74 L610.48,185.36 L611.79,186.99 L613.09,188.60 L614.39,190.20 L615.69,191.79 L617.00,193.38 L618.30,194.96 L619.60,196.52 L620.90,198.08 L622.20,199.63 L623.51,201.18 L624.81,202.71 L626.11,204.24 L627.41,205.76 L628.71,207.27 L630.02,208.77 L631.32,210.27 L632.62,211.75 L633.92,213.24 L635.23,214.71 L636.53,216.18 L637.83,217.64 L639.13,219.10 L640.43,220.54 L641.74,221.99 L643.04,223.42 L644.34,224.86 L645.64,226.28 L646.95,227.71 L648.25,229.12 L649.55,230.53 L650.85,231.94 L652.15,233.35 L653.46,234.75 L654.76,236.14 L656.06,237.53 L657.36,238.92 L658.66,240.31 L659.97,241.69 L661.27,243.08 L662.57,244.46 L663.87,245.83 L665.18,247.21 L666.48,248.58 L667.78,249.96 L669.08,251.33 L670.38,252.70 L671.69,254.07 L672.99,255.44 L674.29,256.82 L675.59,258.19 L676.90,259.56 L678.20,260.94 L679.50,262.31 L680.80,263.69 L682.10,265.07 L683.41,266.45 L684.71,267.84 L686.01,269.22 L687.31,270.61 L688.61,272.01 L689.92,273.41 L691.22,274.81 L692.52,276.22 L693.82,277.63 L695.13,279.04 L696.43,280.46 L697.73,281.89 L699.03,283.32 L700.33,284.76 L701.64,286.21 L702.94,287.66 L704.24,289.12 L705.54,290.59 L706.85,292.06 L708.15,293.55 L709.45,295.04 L710.75,296.54 L712.05,298.05 L713.36,299.57 L714.66,301.10 L715.96,302.63 L717.26,304.18 L718.56,305.74 L719.87,307.31 L721.17,308.90 L722.47,310.49 L723.77,312.10 L725.08,313.71 L726.38,315.34 L727.68,316.99 L728.98,318.65 L730.28,320.32 L731.59,322.00 L732.89,323.70 L734.19,325.41 L735.49,327.14 L736.80,328.89 L738.10,330.65 L739.40,332.42 L740.70,334.22 L742.00,336.02 L743.31,337.85 L744.61,339.69 L745.91,341.55 L746.91,343.00"/>
<path class="cv" stroke="#00ffff" stroke-dasharray="27.6 8.2" d="M504.89,143.00 L505.11,140.28 L505.33,137.72 L505.56,135.31 L505.78,133.05 L506.00,130.91 L506.22,128.89 L506.44,126.99 L506.67,125.19 L506.89,123.49 L507.11,121.88 L507.33,120.35 L507.55,118.90 L507.77,117.53 L508.00,116.23 L508.22,114.99 L508.44,113.82 L508.66,112.71 L508.88,111.65 L509.11,110.65 L509.33,109.70 L509.55,108.79 L509.77,107.94 L509.99,107.12 L510.21,106.35 L510.44,105.62 L510.66,104.93 L510.88,104.28 L511.10,103.66 L511.32,103.07 L511.55,102.52 L511.77,102.00 L511.99,101.51 L512.21,101.04 L512.43,100.61 L512.66,100.20 L512.88,99.81 L513.10,99.46 L513.32,99.12 L513.54,98.81 L513.76,98.52 L513.99,98.25 L514.21,98.00 L514.43,97.77 L514.65,97.57 L514.87,97.38 L515.10,97.20 L515.32,97.05 L515.54,96.91 L515.76,96.79 L515.98,96.69 L516.21,96.60 L516.43,96.52 L516.65,96.46 L516.87,96.41 L517.09,96.38 L517.31,96.36 L517.54,96.35 L517.76,96.36 L517.98,96.38 L518.20,96.41 L518.42,96.45 L518.65,96.50 L518.87,96.56 L519.09,96.64 L519.31,96.72 L519.53,96.81 L519.76,96.92 L519.98,97.03 L520.20,97.15 L520.42,97.28 L520.64,97.42 L520.86,97.57 L521.09,97.72 L521.31,97.89 L521.53,98.06 L521.75,98.24 L521.97,98.42 L522.20,98.62 L522.42,98.82 L522.64,99.02 L522.86,99.24 L523.08,99.46 L523.30,99.69 L523.53,99.92 L523.75,100.16 L523.97,100.40 L524.19,100.65 L524.41,100.91 L524.64,101.17 L524.86,101.44 L525.08,101.71 L525.30,101.99 L525.52,102.27 L525.75,102.56 L525.97,102.85 L526.19,103.15 L526.41,103.45 L526.63,103.75 L526.85,104.06 L527.08,104.37 L527.30,104.69 L527.52,105.01 L527.74,105.34 L527.96,105.67 L528.19,106.00 L528.41,106.34 L528.63,106.68 L528.85,107.02 L529.07,107.37 L529.30,107.72 L529.52,108.07 L529.74,108.43 L529.96,108.79 L530.18,109.15 L530.40,109.51 L530.63,109.88 L530.85,110.25 L531.07,110.62 L531.29,111.00 L531.51,111.38 L531.74,111.76 L531.96,112.14 L532.18,112.53 L532.40,112.92 L532.62,113.31 L532.85,113.70 L533.07,114.09 L533.29,114.49 L533.51,114.89 L533.73,115.29 L533.95,115.69 L534.18,116.09 L534.40,116.50 L534.62,116.91 L534.84,117.32 L535.06,117.73 L535.29,118.14 L535.51,118.56 L535.73,118.97 L535.95,119.39 L536.17,119.81 L536.39,120.23 L536.62,120.65 L536.84,121.07 L537.06,121.50 L537.28,121.92 L537.50,122.35 L537.73,122.78 L537.95,123.21 L538.17,123.64 L538.39,124.07 L538.61,124.50 L538.84,124.94 L539.06,125.37 L539.28,125.81 L539.50,126.24 L539.72,126.68 L539.94,127.12 L540.17,127.56 L540.97,129.15 L541.77,130.75 L542.57,132.36 L543.37,133.98 L544.17,135.60 L544.97,137.23 L545.78,138.87 L546.58,140.50 L547.38,142.14 L548.18,143.78 L548.98,145.42 L549.78,147.06 L550.58,148.70 L551.39,150.34 L552.19,151.98 L552.99,153.62 L553.79,155.26 L554.59,156.89 L555.39,158.52 L556.19,160.14 L556.99,161.76 L557.80,163.38 L558.60,164.99 L559.40,166.60 L560.20,168.20 L561.00,169.80 L561.80,171.39 L562.60,172.98 L563.41,174.56 L564.21,176.14 L565.01,177.70 L565.81,179.27 L566.61,180.82 L567.41,182.37 L568.21,183.91 L569.01,185.45 L569.82,186.97 L570.62,188.50 L571.42,190.01 L572.22,191.52 L573.02,193.02 L573.82,194.51 L574.62,196.00 L575.43,197.47 L576.23,198.95 L577.03,200.41 L577.83,201.87 L578.63,203.32 L579.43,204.76 L580.23,206.20 L581.04,207.63 L581.84,209.05 L582.64,210.46 L583.44,211.87 L584.24,213.28 L585.04,214.67 L585.84,216.06 L586.64,217.44 L587.45,218.82 L588.25,220.19 L589.05,221.55 L589.85,222.91 L590.65,224.26 L591.45,225.61 L592.25,226.95 L593.06,228.28 L593.86,229.61 L594.66,230.93 L595.46,232.25 L596.26,233.56 L597.06,234.87 L597.86,236.18 L598.66,237.47 L599.47,238.77 L600.27,240.06 L601.07,241.35 L601.87,242.63 L602.67,243.90 L603.47,245.18 L604.27,246.45 L605.08,247.72 L605.88,248.98 L606.68,250.24 L607.48,251.50 L608.28,252.75 L609.08,254.01 L609.88,255.26 L610.68,256.51 L611.49,257.75 L612.29,259.00 L613.09,260.24 L613.89,261.48 L614.69,262.72 L615.49,263.96 L616.29,265.20 L617.10,266.44 L617.90,267.67 L618.70,268.91 L619.50,270.15 L620.30,271.38 L621.10,272.62 L621.90,273.86 L622.70,275.10 L623.51,276.34 L624.31,277.58 L625.11,278.82 L625.91,280.06 L626.71,281.31 L627.51,282.56 L628.31,283.81 L629.12,285.06 L629.92,286.31 L630.72,287.57 L631.52,288.83 L632.32,290.10 L633.12,291.36 L633.92,292.64 L634.72,293.91 L635.53,295.19 L636.33,296.48 L637.13,297.76 L637.93,299.06 L638.73,300.36 L639.53,301.66 L640.33,302.97 L641.14,304.29 L641.94,305.61 L642.74,306.93 L643.54,308.27 L644.34,309.61 L645.14,310.96 L645.94,312.31 L646.74,313.67 L647.55,315.04 L648.35,316.42 L649.15,317.81 L649.95,319.20 L650.75,320.61 L651.55,322.02 L652.35,323.44 L653.16,324.87 L653.96,326.31 L654.76,327.76 L655.56,329.22 L656.36,330.69 L657.16,332.17 L657.96,333.66 L658.76,335.16 L659.57,336.67 L660.37,338.20 L661.17,339.73 L661.97,341.28 L662.77,342.84 L662.85,343.00"/>
<path class="cv" stroke="#ff00ff" stroke-dasharray="2.6 3.6 11.3 3.6" d="M504.75,145.20 L504.98,142.94 L505.20,140.84 L505.42,138.87 L505.64,137.03 L505.87,135.31 L506.09,133.70 L506.31,132.19 L506.54,130.78 L506.76,129.45 L506.98,128.21 L507.20,127.05 L507.43,125.97 L507.65,124.95 L507.87,124.00 L508.09,123.12 L508.32,122.29 L508.54,121.52 L508.76,120.80 L508.99,120.13 L509.21,119.51 L509.43,118.94 L509.65,118.41 L509.88,117.93 L510.10,117.48 L510.32,117.07 L510.54,116.70 L510.77,116.37 L510.99,116.06 L511.21,115.79 L511.44,115.55 L511.66,115.35 L511.88,115.16 L512.10,115.01 L512.33,114.88 L512.55,114.78 L512.77,114.71 L512.99,114.65 L513.22,114.62 L513.44,114.61 L513.66,114.62 L513.89,114.66 L514.11,114.71 L514.33,114.78 L514.55,114.87 L514.78,114.97 L515.00,115.10 L515.22,115.24 L515.44,115.39 L515.67,115.56 L515.89,115.75 L516.11,115.95 L516.34,116.16 L516.56,116.39 L516.78,116.63 L517.00,116.88 L517.23,117.15 L517.45,117.43 L517.67,117.71 L517.89,118.01 L518.12,118.32 L518.34,118.64 L518.56,118.97 L518.79,119.31 L519.01,119.66 L519.23,120.02 L519.45,120.39 L519.68,120.76 L519.90,121.15 L520.12,121.54 L520.34,121.94 L520.57,122.35 L520.79,122.76 L521.01,123.18 L521.24,123.61 L521.46,124.05 L521.68,124.49 L521.90,124.94 L522.13,125.39 L522.35,125.85 L522.57,126.31 L522.79,126.79 L523.02,127.26 L523.24,127.74 L523.46,128.23 L523.69,128.72 L523.91,129.21 L524.13,129.71 L524.35,130.22 L524.58,130.73 L524.80,131.24 L525.02,131.76 L525.24,132.28 L525.47,132.80 L525.69,133.33 L525.91,133.86 L526.14,134.39 L526.36,134.93 L526.58,135.47 L526.80,136.02 L527.03,136.56 L527.25,137.11 L527.47,137.66 L527.69,138.22 L527.92,138.77 L528.14,139.33 L528.36,139.90 L528.59,140.46 L528.81,141.03 L529.03,141.59 L529.25,142.16 L529.48,142.74 L529.70,143.31 L529.92,143.88 L530.14,144.46 L530.37,145.04 L530.59,145.62 L530.81,146.20 L531.04,146.78 L531.26,147.37 L531.48,147.95 L531.70,148.54 L531.93,149.13 L532.15,149.72 L532.37,150.31 L532.59,150.90 L532.82,151.49 L533.04,152.08 L533.26,152.67 L533.49,153.27 L533.50,153.31"/>
<path class="cv" stroke="#ff00ff" stroke-dasharray="11.3 3.6 2.6 3.6" stroke-dashoffset="-4.4" d="M533.50,153.31 L533.71,153.86 L533.93,154.46 L534.15,155.05 L534.38,155.65 L534.60,156.24 L534.82,156.84 L535.04,157.44 L535.27,158.04 L535.49,158.63 L535.71,159.23 L535.93,159.83 L536.16,160.43 L536.38,161.03 L536.60,161.63 L536.83,162.23 L537.05,162.83 L537.27,163.43 L537.49,164.03 L537.72,164.62 L537.94,165.22 L538.16,165.82 L538.38,166.42 L538.61,167.02 L538.83,167.62 L539.05,168.22 L539.28,168.81 L539.50,169.41 L539.72,170.01 L539.94,170.60 L540.17,171.20 L540.72,172.67 L541.27,174.15 L541.82,175.61 L542.37,177.08 L542.92,178.54 L543.47,179.99 L544.02,181.45 L544.57,182.89 L545.12,184.34 L545.68,185.78 L546.23,187.21 L546.78,188.64 L547.33,190.06 L547.88,191.48 L548.43,192.89 L548.98,194.29 L549.53,195.69 L550.08,197.09 L550.63,198.48 L551.19,199.86 L551.74,201.23 L552.29,202.60 L552.84,203.96 L553.39,205.32 L553.94,206.67 L554.49,208.01 L555.04,209.35 L555.59,210.68 L556.14,212.00 L556.69,213.32 L557.25,214.63 L557.80,215.94 L558.35,217.23 L558.90,218.52 L559.45,219.81 L560.00,221.09 L560.55,222.36 L561.10,223.63 L561.65,224.89 L562.20,226.14 L562.75,227.39 L563.31,228.63 L563.86,229.87 L564.41,231.10 L564.96,232.33 L565.51,233.54 L566.06,234.76 L566.61,235.97 L567.16,237.17 L567.71,238.37 L568.26,239.56 L568.81,240.75 L569.37,241.93 L569.92,243.11 L570.47,244.28 L571.02,245.45 L571.57,246.62 L572.12,247.78 L572.67,248.94 L573.22,250.09 L573.77,251.24 L574.32,252.38 L574.87,253.52 L575.43,254.66 L575.98,255.80 L576.53,256.93 L577.08,258.06 L577.63,259.18 L578.18,260.31 L578.73,261.43 L579.28,262.55 L579.83,263.67 L580.38,264.78 L580.93,265.89 L581.49,267.00 L582.04,268.11 L582.59,269.22 L583.14,270.33 L583.69,271.44 L584.24,272.54 L584.79,273.65 L585.34,274.75 L585.89,275.86 L586.44,276.96 L586.99,278.07 L587.55,279.17 L588.10,280.28 L588.65,281.39 L589.20,282.50 L589.75,283.60 L590.30,284.71 L590.85,285.83 L591.40,286.94 L591.95,288.05 L592.50,289.17 L593.06,290.29 L593.61,291.41 L594.16,292.54 L594.71,293.67 L595.26,294.80 L595.81,295.93 L596.36,297.07 L596.91,298.21 L597.46,299.36 L598.01,300.51 L598.56,301.66 L599.12,302.82 L599.67,303.99 L600.22,305.16 L600.77,306.33 L601.32,307.51 L601.87,308.69 L602.42,309.89 L602.97,311.08 L603.52,312.29 L604.07,313.50 L604.62,314.71 L605.18,315.94 L605.73,317.17 L606.28,318.41 L606.83,319.65 L607.38,320.91 L607.93,322.17 L608.48,323.44 L609.03,324.72 L609.58,326.01 L610.13,327.31 L610.68,328.61 L611.24,329.93 L611.79,331.25 L612.34,332.59 L612.89,333.93 L613.44,335.29 L613.99,336.66 L614.54,338.03 L615.09,339.42 L615.64,340.82 L616.19,342.23 L616.49,343.00"/>
<path class="cv" stroke="#ffff00" stroke-dasharray="20.3 2 2.1 1.8" d="M504.90,150.40 L505.12,149.13 L505.35,147.88 L505.57,146.67 L505.79,145.49 L506.01,144.35 L506.23,143.26 L506.46,142.21 L506.68,141.22 L506.90,140.27 L507.12,139.37 L507.34,138.53 L507.56,137.73 L507.79,136.99 L508.01,136.29 L508.23,135.65 L508.45,135.05 L508.67,134.50 L508.89,133.99 L509.12,133.53 L509.34,133.12 L509.56,132.74 L509.78,132.41 L510.00,132.12 L510.23,131.87 L510.45,131.66 L510.67,131.48 L510.89,131.34 L511.11,131.24 L511.33,131.17 L511.56,131.13 L511.78,131.12 L512.00,131.15 L512.22,131.20 L512.44,131.28 L512.67,131.40 L512.89,131.53 L513.11,131.70 L513.33,131.88 L513.55,132.09 L513.77,132.33 L514.00,132.59 L514.22,132.87 L514.44,133.17 L514.66,133.49 L514.88,133.83 L515.10,134.18 L515.33,134.56 L515.55,134.95 L515.77,135.36 L515.99,135.79 L516.21,136.23 L516.44,136.68 L516.66,137.15 L516.88,137.63 L517.10,138.13 L517.32,138.64 L517.54,139.16 L517.77,139.69 L517.99,140.23 L518.21,140.79 L518.43,141.35 L518.65,141.92 L518.88,142.51 L519.10,143.10 L519.32,143.70 L519.54,144.31 L519.76,144.92 L519.98,145.54 L520.21,146.17 L520.43,146.81 L520.65,147.45 L520.87,148.10 L521.09,148.75 L521.31,149.41 L521.54,150.08 L521.76,150.75 L521.98,151.42 L522.20,152.10 L522.42,152.78 L522.65,153.46 L522.87,154.15 L523.09,154.84 L523.31,155.54 L523.53,156.24 L523.75,156.94 L523.98,157.64 L524.20,158.35 L524.42,159.06 L524.64,159.76 L524.86,160.48 L525.09,161.19 L525.31,161.90 L525.53,162.62 L525.75,163.33 L525.97,164.05 L526.19,164.77 L526.42,165.49 L526.64,166.21 L526.86,166.93 L527.08,167.65 L527.30,168.37 L527.52,169.09 L527.75,169.81 L527.97,170.53 L528.19,171.25 L528.41,171.97 L528.63,172.69 L528.86,173.41 L529.08,174.12 L529.30,174.84 L529.52,175.56 L529.74,176.27 L529.96,176.99 L530.19,177.70 L530.41,178.42 L530.63,179.13 L530.85,179.84 L531.07,180.55 L531.30,181.26 L531.52,181.97 L531.74,182.67 L531.96,183.38 L532.18,184.08 L532.40,184.78 L532.63,185.48 L532.85,186.18 L533.07,186.88 L533.29,187.58 L533.51,188.27 L533.73,188.97 L533.96,189.66 L534.18,190.35 L534.40,191.04 L534.62,191.72 L534.84,192.41 L535.07,193.09 L535.29,193.77 L535.51,194.45 L535.73,195.13 L535.95,195.81 L536.17,196.48 L536.40,197.16 L536.62,197.83 L536.84,198.50 L537.06,199.17 L537.28,199.84 L537.51,200.50 L537.73,201.16 L537.95,201.83 L538.17,202.49 L538.39,203.14 L538.61,203.80 L538.84,204.46 L539.06,205.11 L539.28,205.76 L539.50,206.41 L539.72,207.06 L539.94,207.71 L540.17,208.35 L540.59,209.59 L541.02,210.82 L541.44,212.04 L541.87,213.26 L542.30,214.47 L542.72,215.68 L543.15,216.89 L543.57,218.09 L544.00,219.28 L544.42,220.47 L544.85,221.66 L545.28,222.85 L545.70,224.02 L546.13,225.20 L546.55,226.37 L546.98,227.54 L547.40,228.71 L547.83,229.88 L548.26,231.04 L548.68,232.20 L549.11,233.36 L549.53,234.52 L549.96,235.67 L550.38,236.82 L550.81,237.98 L551.24,239.13 L551.66,240.28 L552.09,241.43 L552.51,242.58 L552.94,243.73 L553.36,244.88 L553.79,246.03 L554.22,247.18 L554.64,248.33 L555.07,249.48 L555.49,250.64 L555.92,251.79 L556.34,252.95 L556.77,254.11 L557.20,255.26 L557.62,256.42 L558.05,257.59 L558.47,258.75 L558.90,259.92 L559.32,261.09 L559.75,262.26 L560.18,263.43 L560.60,264.61 L561.03,265.79 L561.45,266.97 L561.88,268.15 L562.30,269.34 L562.73,270.53 L563.16,271.73 L563.58,272.92 L564.01,274.12 L564.43,275.33 L564.86,276.53 L565.28,277.74 L565.71,278.96 L566.14,280.17 L566.56,281.39 L566.99,282.62 L567.41,283.85 L567.84,285.08 L568.26,286.31 L568.69,287.55 L569.12,288.79 L569.54,290.03 L569.97,291.27 L570.39,292.52 L570.82,293.77 L571.24,295.03 L571.67,296.29 L572.10,297.55 L572.52,298.81 L572.95,300.07 L573.37,301.34 L573.80,302.61 L574.22,303.88 L574.65,305.15 L575.08,306.42 L575.50,307.70 L575.93,308.98 L576.35,310.25 L576.78,311.53 L577.20,312.81 L577.63,314.09 L578.06,315.36 L578.48,316.64 L578.91,317.92 L579.33,319.19 L579.76,320.47 L580.18,321.74 L580.61,323.01 L581.04,324.28 L581.46,325.55 L581.89,326.81 L582.31,328.08 L582.74,329.33 L583.16,330.59 L583.59,331.83 L584.01,333.08 L584.44,334.32 L584.87,335.55 L585.29,336.78 L585.72,338.00 L586.14,339.21 L586.57,340.42 L586.99,341.62 L587.42,342.81 L587.49,343.00"/>
</g>
<rect x="500.3" y="18.85" width="299.0" height="324.15" fill="none" stroke="#000" stroke-width="1.25"/>
<path d="M525.22,343.0v-6.5M525.22,18.85v6.5M550.13,343.0v-12.5M550.13,18.85v12.5M575.05,343.0v-6.5M575.05,18.85v6.5M599.97,343.0v-12.5M599.97,18.85v12.5M624.88,343.0v-6.5M624.88,18.85v6.5M649.80,343.0v-12.5M649.80,18.85v12.5M674.72,343.0v-6.5M674.72,18.85v6.5M699.63,343.0v-12.5M699.63,18.85v12.5M724.55,343.0v-6.5M724.55,18.85v6.5M749.47,343.0v-12.5M749.47,18.85v12.5M774.38,343.0v-6.5M774.38,18.85v6.5M500.3,56.61h6M799.3,56.61h-6M500.3,47.10h6M799.3,47.10h-6M500.3,40.35h6M799.3,40.35h-6M500.3,35.11h6M799.3,35.11h-6M500.3,30.84h6M799.3,30.84h-6M500.3,27.22h6M799.3,27.22h-6M500.3,24.09h6M799.3,24.09h-6M500.3,21.32h6M799.3,21.32h-6M500.3,72.88h11.5M799.3,72.88h-11.5M500.3,110.64h6M799.3,110.64h-6M500.3,101.12h6M799.3,101.12h-6M500.3,94.37h6M799.3,94.37h-6M500.3,89.14h6M799.3,89.14h-6M500.3,84.86h6M799.3,84.86h-6M500.3,81.24h6M799.3,81.24h-6M500.3,78.11h6M799.3,78.11h-6M500.3,75.35h6M799.3,75.35h-6M500.3,126.90h11.5M799.3,126.90h-11.5M500.3,164.66h6M799.3,164.66h-6M500.3,155.15h6M799.3,155.15h-6M500.3,148.40h6M799.3,148.40h-6M500.3,143.16h6M799.3,143.16h-6M500.3,138.89h6M799.3,138.89h-6M500.3,135.27h6M799.3,135.27h-6M500.3,132.14h6M799.3,132.14h-6M500.3,129.37h6M799.3,129.37h-6M500.3,180.92h11.5M799.3,180.92h-11.5M500.3,218.69h6M799.3,218.69h-6M500.3,209.17h6M799.3,209.17h-6M500.3,202.42h6M799.3,202.42h-6M500.3,197.19h6M799.3,197.19h-6M500.3,192.91h6M799.3,192.91h-6M500.3,189.29h6M799.3,189.29h-6M500.3,186.16h6M799.3,186.16h-6M500.3,183.40h6M799.3,183.40h-6M500.3,234.95h11.5M799.3,234.95h-11.5M500.3,272.71h6M799.3,272.71h-6M500.3,263.20h6M799.3,263.20h-6M500.3,256.45h6M799.3,256.45h-6M500.3,251.21h6M799.3,251.21h-6M500.3,246.94h6M799.3,246.94h-6M500.3,243.32h6M799.3,243.32h-6M500.3,240.19h6M799.3,240.19h-6M500.3,237.42h6M799.3,237.42h-6M500.3,288.98h11.5M799.3,288.98h-11.5M500.3,326.74h6M799.3,326.74h-6M500.3,317.22h6M799.3,317.22h-6M500.3,310.47h6M799.3,310.47h-6M500.3,305.24h6M799.3,305.24h-6M500.3,300.96h6M799.3,300.96h-6M500.3,297.34h6M799.3,297.34h-6M500.3,294.21h6M799.3,294.21h-6M500.3,291.45h6M799.3,291.45h-6" fill="none" stroke="#000" stroke-width="1.05"/>
<text class="tk" x="500.60" y="372.2" text-anchor="middle">0</text>
<text class="tk" x="550.43" y="372.2" text-anchor="middle">10</text>
<rect x="540.49" y="369.50" width="3.85" height="3.4" fill="#fff"/><rect x="546.37" y="369.50" width="3.80" height="3.4" fill="#fff"/>
<text class="tk" x="600.27" y="372.2" text-anchor="middle">20</text>
<text class="tk" x="650.10" y="372.2" text-anchor="middle">30</text>
<text class="tk" x="699.93" y="372.2" text-anchor="middle">40</text>
<text class="tk" x="749.77" y="372.2" text-anchor="middle">50</text>
<text class="tk" x="799.60" y="372.2" text-anchor="middle">60</text>
<text class="tk" x="490.70" y="28.65" text-anchor="end">10</text><rect x="469.91" y="25.95" width="3.85" height="3.4" fill="#fff"/><rect x="475.79" y="25.95" width="3.80" height="3.4" fill="#fff"/>
<text class="tk" x="490.70" y="82.47" text-anchor="end">1</text><rect x="480.76" y="79.77" width="3.85" height="3.4" fill="#fff"/><rect x="486.64" y="79.77" width="3.80" height="3.4" fill="#fff"/>
<text class="tk" x="484.70" y="136.60" text-anchor="end">0.1</text><rect x="474.76" y="133.90" width="3.85" height="3.4" fill="#fff"/><rect x="480.64" y="133.90" width="3.80" height="3.4" fill="#fff"/>
<text class="ex" x="453.90" y="187.92" textLength="21.62" lengthAdjust="spacingAndGlyphs">10</text>
<text class="exs" x="475.27" y="182.72" textLength="15.53" lengthAdjust="spacingAndGlyphs">−2</text>
<text class="ex" x="453.90" y="241.95" textLength="21.62" lengthAdjust="spacingAndGlyphs">10</text>
<text class="exs" x="475.28" y="236.75" textLength="15.28" lengthAdjust="spacingAndGlyphs">−3</text>
<text class="ex" x="453.90" y="295.98" textLength="21.62" lengthAdjust="spacingAndGlyphs">10</text>
<text class="exs" x="475.30" y="290.78" textLength="14.92" lengthAdjust="spacingAndGlyphs">−4</text>
<text class="ex" x="453.90" y="350.0" textLength="21.62" lengthAdjust="spacingAndGlyphs">10</text>
<text class="exs" x="475.28" y="344.8" textLength="15.28" lengthAdjust="spacingAndGlyphs">−5</text>
<g transform="translate(437.2,0) rotate(-90)">
<text class="ax" x="-349.26" y="0" textLength="86.19" lengthAdjust="spacingAndGlyphs">Number</text>
<text class="ax" x="-249.72" y="0" textLength="45.62" lengthAdjust="spacingAndGlyphs">Flux</text>
<text class="br" x="-192.2" y="0.3">[</text>
<text class="ax" x="-184.25" y="0" textLength="33.68" lengthAdjust="spacingAndGlyphs">cm</text>
<text class="sup" x="-147.75" y="-7.3" textLength="16.09" lengthAdjust="spacingAndGlyphs">−2</text>
<text class="ax" x="-120.54" y="0" textLength="10.85" lengthAdjust="spacingAndGlyphs">s</text>
<text class="sup" x="-108.63" y="-7.3" textLength="15.61" lengthAdjust="spacingAndGlyphs">−1</text>
<text class="ax" x="-80.06" y="0" textLength="40.08" lengthAdjust="spacingAndGlyphs">MeV</text>
<text class="sup" x="-37.78" y="-7.3" textLength="16.73" lengthAdjust="spacingAndGlyphs">−1</text>
<text class="br" x="-21.2" y="0.3">]</text>
</g>
<text class="ax" x="521.21" y="400.7" textLength="97.43" lengthAdjust="spacingAndGlyphs">Neutrino</text>
<text class="ax" x="629.65" y="400.7" textLength="75.15" lengthAdjust="spacingAndGlyphs">Energy</text>
<text class="br2" x="716.58" y="401.2">[</text>
<text class="ax" x="725.56" y="400.7" textLength="45.38" lengthAdjust="spacingAndGlyphs">MeV</text>
<text class="br2" x="769.17" y="401.2">]</text>
<path d="M652.10,46.20h50.2" stroke="#ff0000" stroke-width="2.2" fill="none"/>
<path d="M652.10,67.80h50.2" stroke="#0000ff" stroke-width="2.2" fill="none" stroke-dasharray="2.6 3.53"/>
<path d="M652.10,89.40h50.2" stroke="#00ff00" stroke-width="2.2" fill="none" stroke-dasharray="11.6 7.6"/>
<path d="M652.10,111.00h50.2" stroke="#00ffff" stroke-width="2.2" fill="none" stroke-dasharray="27.6 8.2"/>
<path d="M652.10,132.60h50.2" stroke="#ff00ff" stroke-width="2.2" fill="none" stroke-dasharray="2.6 3.6 11.3 3.6"/>
<path d="M652.10,154.20h50.2" stroke="#ffff00" stroke-width="2.2" fill="none" stroke-dasharray="20.3 2 2.1 1.8"/>
<text class="lg" x="709.63" y="46.5" textLength="54.89" lengthAdjust="spacingAndGlyphs">Total</text>
<text class="lg"><tspan x="709.84" y="68.1" font-size="21.5" textLength="12.62" lengthAdjust="spacingAndGlyphs">0</tspan><tspan x="723.67" y="70.5" font-size="28" textLength="13.94" lengthAdjust="spacingAndGlyphs">&lt;</tspan><tspan x="739.09" y="68.1" font-size="21.5" textLength="10.04" lengthAdjust="spacingAndGlyphs">z</tspan><tspan x="750.57" y="70.5" font-size="28" textLength="13.94" lengthAdjust="spacingAndGlyphs">&lt;</tspan><tspan x="767.60" y="68.1" font-size="21.5" textLength="9.66" lengthAdjust="spacingAndGlyphs">1</tspan></text>
<text class="lg"><tspan x="710.25" y="89.7" font-size="21.5" textLength="9.94" lengthAdjust="spacingAndGlyphs">1</tspan><tspan x="723.67" y="92.1" font-size="28" textLength="13.94" lengthAdjust="spacingAndGlyphs">&lt;</tspan><tspan x="739.09" y="89.7" font-size="21.5" textLength="10.04" lengthAdjust="spacingAndGlyphs">z</tspan><tspan x="750.57" y="92.1" font-size="28" textLength="13.94" lengthAdjust="spacingAndGlyphs">&lt;</tspan><tspan x="765.68" y="89.7" font-size="21.5" textLength="12.72" lengthAdjust="spacingAndGlyphs">2</tspan></text>
<text class="lg"><tspan x="709.68" y="111.3" font-size="21.5" textLength="12.72" lengthAdjust="spacingAndGlyphs">2</tspan><tspan x="723.67" y="113.7" font-size="28" textLength="13.94" lengthAdjust="spacingAndGlyphs">&lt;</tspan><tspan x="739.09" y="111.3" font-size="21.5" textLength="10.04" lengthAdjust="spacingAndGlyphs">z</tspan><tspan x="750.57" y="113.7" font-size="28" textLength="13.94" lengthAdjust="spacingAndGlyphs">&lt;</tspan><tspan x="765.60" y="111.3" font-size="21.5" textLength="12.59" lengthAdjust="spacingAndGlyphs">3</tspan></text>
<text class="lg"><tspan x="709.60" y="132.9" font-size="21.5" textLength="12.59" lengthAdjust="spacingAndGlyphs">3</tspan><tspan x="723.67" y="135.3" font-size="28" textLength="13.94" lengthAdjust="spacingAndGlyphs">&lt;</tspan><tspan x="739.09" y="132.9" font-size="21.5" textLength="10.04" lengthAdjust="spacingAndGlyphs">z</tspan><tspan x="750.57" y="135.3" font-size="28" textLength="13.94" lengthAdjust="spacingAndGlyphs">&lt;</tspan><tspan x="765.82" y="132.9" font-size="21.5" textLength="12.37" lengthAdjust="spacingAndGlyphs">4</tspan></text>
<text class="lg"><tspan x="709.82" y="154.5" font-size="21.5" textLength="12.37" lengthAdjust="spacingAndGlyphs">4</tspan><tspan x="723.67" y="156.9" font-size="28" textLength="13.94" lengthAdjust="spacingAndGlyphs">&lt;</tspan><tspan x="739.09" y="154.5" font-size="21.5" textLength="10.04" lengthAdjust="spacingAndGlyphs">z</tspan><tspan x="750.57" y="156.9" font-size="28" textLength="13.94" lengthAdjust="spacingAndGlyphs">&lt;</tspan><tspan x="765.30" y="154.5" font-size="21.5" textLength="12.91" lengthAdjust="spacingAndGlyphs">5</tspan></text>
<text class="pn"><tspan x="516.02" y="316.1" font-size="31" textLength="8.95" lengthAdjust="spacingAndGlyphs">(</tspan><tspan x="528.00" y="317.0" font-size="28.5" textLength="15.59" lengthAdjust="spacingAndGlyphs">b</tspan><tspan x="545.85" y="316.1" font-size="31" textLength="8.82" lengthAdjust="spacingAndGlyphs">)</tspan></text>
</svg></body></html>
